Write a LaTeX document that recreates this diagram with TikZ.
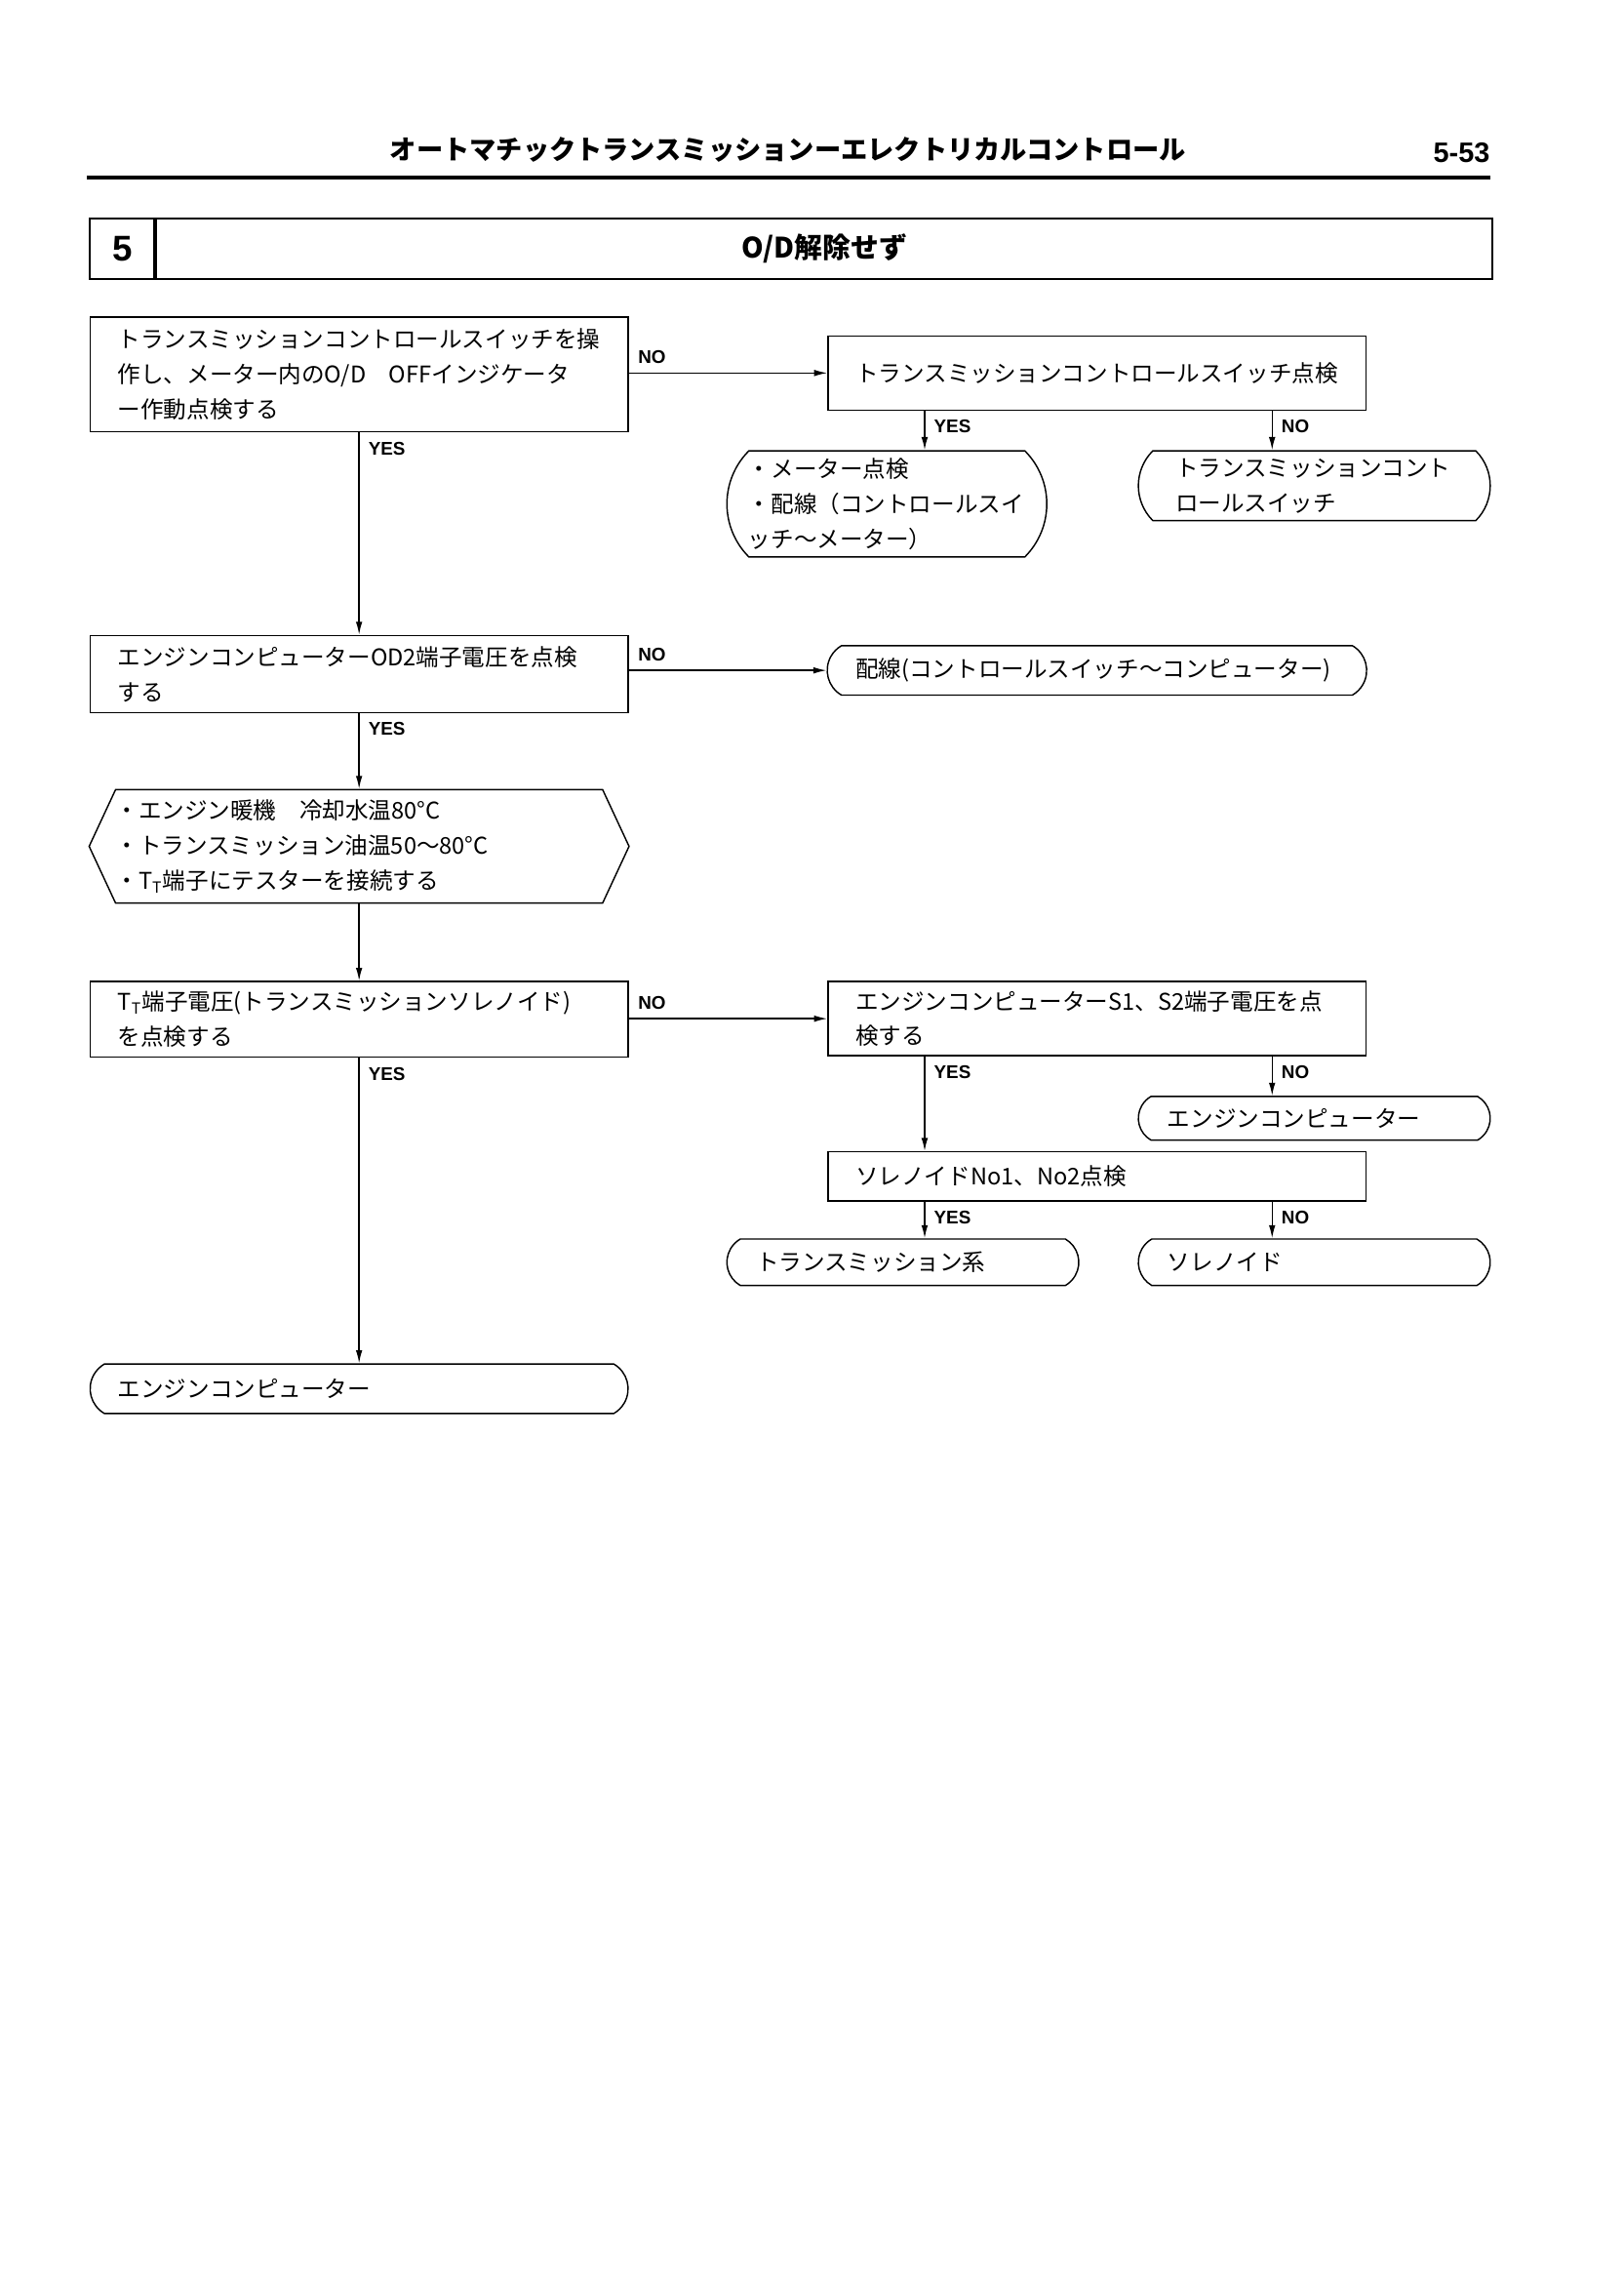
\documentclass[tikz,border=0pt]{standalone}
\usepackage{fontspec}
\setmainfont{Noto Sans CJK JP}
\newfontfamily\lblfont{Liberation Sans}
\usetikzlibrary{arrows.meta,shapes.misc,shapes.symbols}
\newcommand\boxfont{\fontsize{9pt}{13.7pt}\selectfont}
\begin{document}
\begin{tikzpicture}[x=0.2mm, y=-0.2mm,
	every node/.style={inner sep=0pt},
	chkbox/.style={draw, line width=0.55pt, rectangle, minimum width=74mm, align=left, text width=66.4mm, font=\boxfont},
	endbox/.style={draw, line width=0.55pt, rounded rectangle, rounded rectangle arc length=120, align=left, font=\boxfont},
	prepbox/.style={draw, line width=0.55pt, signal, signal to=east and west, signal pointer angle=130, align=left, font=\boxfont},
	lbl/.style={font=\lblfont\bfseries\fontsize{7.2pt}{8pt}\selectfont, inner xsep=1.2mm, inner ysep=1.2mm},
	arr/.style={line width=0.55pt, -{Latex[length=1.8mm,width=0.9mm]}}]
	\useasboundingbox (0,0) rectangle (1116.5,1567.2);
	\node[font=\bfseries\fontsize{10.4pt}{12pt}\selectfont] (head) at (542,103) {オートマチックトランスミッションーエレクトリカルコントロール};
	\node[font=\lblfont\bfseries\fontsize{11pt}{12pt}\selectfont, anchor=east] (page) at (1025,105) {5-53};
	\draw[line width=1.4pt] (60,122) -- (1025,122);
	\node[draw, line width=0.8pt, minimum width=8.8mm, minimum height=8.4mm, font=\lblfont\bfseries\fontsize{14pt}{14pt}\selectfont] (num) at (84,171) {5};
	\node[draw, line width=0.8pt, minimum width=183.8mm, minimum height=8.4mm, anchor=west, font=\bfseries\fontsize{11pt}{12pt}\selectfont] (title) at (num.east) {O/D解除せず};
	\coordinate (colb) at (636,0);
	\coordinate (colc) at (875,0);
	\node[chkbox, minimum height=15.8mm] (swop) at (247,257.5) {トランスミッションコントロールスイッチを操\\作し、メーター内のO/D　OFFインジケータ\\ー作動点検する};
	\node[chkbox, minimum height=10.2mm] (swchk) at (754.5,256.5) {トランスミッションコントロールスイッチ点検};
	\node[endbox, rounded rectangle arc length=90, minimum width=44mm, minimum height=14.6mm, text width=38.2mm] (meter) at (610,346.5) {・メーター点検\\・配線（コントロールスイ\\ッチ～メーター）};
	\node[endbox, rounded rectangle arc length=90, minimum width=48.4mm, minimum height=9.6mm, text width=38.2mm] (swend) at (904,334) {トランスミッションコント\\ロールスイッチ};
	\node[chkbox, minimum height=10.6mm] (odchk) at (247,463.5) {エンジンコンピューターOD2端子電圧を点検\\する};
	\node[endbox, minimum width=74.2mm, minimum height=6.8mm, text width=66.4mm] (wire) at (754.5,461) {配線(コントロールスイッチ～コンピューター)};
	\node[prepbox, minimum width=74mm, minimum height=15.6mm, text width=67mm] (prep) at (247,582) {・エンジン暖機　冷却水温80°C\\・トランスミッション油温50～80°C\\・T\textsubscript{T}端子にテスターを接続する};
	\node[chkbox, minimum height=10.4mm] (ttchk) at (247,701) {T\textsubscript{T}端子電圧(トランスミッションソレノイド)\\を点検する};
	\node[chkbox, minimum height=10.2mm] (s12chk) at (754.5,700.5) {エンジンコンピューターS1、S2端子電圧を点\\検する};
	\node[endbox, minimum width=48.4mm, minimum height=6mm, text width=40.4mm] (ecua) at (904,769) {エンジンコンピューター};
	\node[chkbox, minimum height=6.8mm] (solchk) at (754.5,809) {ソレノイドNo1、No2点検};
	\node[endbox, minimum width=48.4mm, minimum height=6.4mm, text width=40.4mm] (trsys) at (621,868) {トランスミッション系};
	\node[endbox, minimum width=48.4mm, minimum height=6.4mm, text width=40.4mm] (solend) at (904,868) {ソレノイド};
	\node[endbox, minimum width=74mm, minimum height=6.8mm, text width=66.4mm] (ecub) at (247,955) {エンジンコンピューター};
	\draw[arr] (swop.east |- swchk.west) -- node[lbl, at start, anchor=south west] {NO} (swchk.west);
	\draw[arr] (colb |- swchk.south) -- node[lbl, at start, anchor=north west] {YES} (colb |- meter.north);
	\draw[arr] (colc |- swchk.south) -- node[lbl, at start, anchor=north west] {NO} (colc |- swend.north);
	\draw[arr] (swop.south) -- node[lbl, at start, anchor=north west] {YES} (odchk.north);
	\draw[arr] (odchk.east |- wire.west) -- node[lbl, at start, anchor=south west] {NO} (wire.west);
	\draw[arr] (odchk.south) -- node[lbl, at start, anchor=north west] {YES} (prep.north);
	\draw[arr] (prep.south) -- (ttchk.north);
	\draw[arr] (ttchk.east |- s12chk.west) -- node[lbl, at start, anchor=south west] {NO} (s12chk.west);
	\draw[arr] (colb |- s12chk.south) -- node[lbl, at start, anchor=north west] {YES} (colb |- solchk.north);
	\draw[arr] (colc |- s12chk.south) -- node[lbl, at start, anchor=north west] {NO} (colc |- ecua.north);
	\draw[arr] (colb |- solchk.south) -- node[lbl, at start, anchor=north west] {YES} (colb |- trsys.north);
	\draw[arr] (colc |- solchk.south) -- node[lbl, at start, anchor=north west] {NO} (colc |- solend.north);
	\draw[arr] (ttchk.south) -- node[lbl, at start, anchor=north west] {YES} (ecub.north);
\end{tikzpicture}
\end{document}
